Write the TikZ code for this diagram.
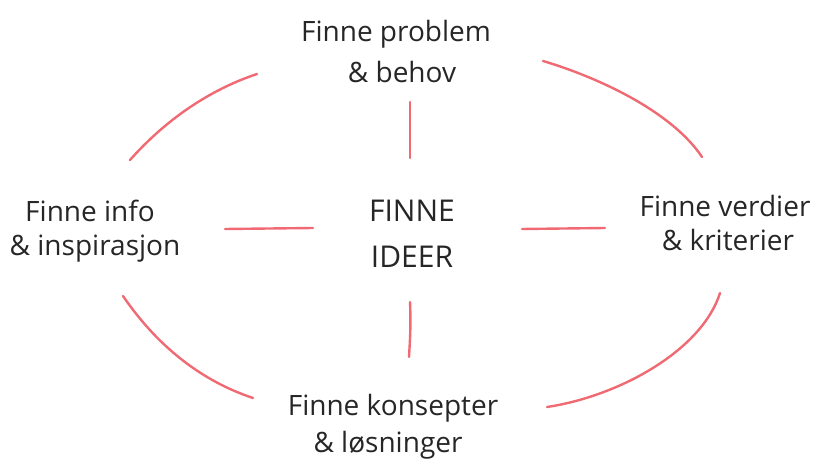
\documentclass[tikz,border=0pt]{standalone}
\usepackage{fontspec}
\setmainfont{Open Sans}
\begin{document}
\begin{tikzpicture}[x=1pt,y=-1pt,
  label/.style={font=\fontsize{28}{31}\selectfont, text=black!85, inner sep=0pt, anchor=base},
  core/.style={font=\fontsize{30}{33}\selectfont, text=black!85, inner sep=0pt, anchor=base},
  link/.style={draw=linkred, line width=2.4pt, line cap=round}]
\definecolor{linkred}{HTML}{F06A74}
\useasboundingbox (0,0) rectangle (826,470);

% texts
\node[label] (p1) at (396,42)  {Finne problem};
\node[label] (p2) at (402,83)  {\& behov};
\node[label] (i1) at (90,222)  {Finne info};
\node[label] (i2) at (95,255)  {\& inspirasjon};
\node[label] (v1) at (725,217) {Finne verdier};
\node[label] (v2) at (728,250) {\& kriterier};
\node[label] (k1) at (393,415) {Finne konsepter};
\node[label] (k2) at (388,452) {\& løsninger};
\node[core]  (c1) at (412,222) {FINNE};
\node[core]  (c2) at (412,267) {IDEER};

% end points of the strokes
\coordinate (tlA) at (130,160); \coordinate (tlB) at (257,74);
\coordinate (trA) at (543,61);  \coordinate (trB) at (702,157);
\coordinate (blA) at (123,296); \coordinate (blB) at (253,398);
\coordinate (brA) at (720,293); \coordinate (brB) at (547,407);
\coordinate (tvA) at (410,102); \coordinate (tvB) at (410,158);
\coordinate (bvA) at (410,302); \coordinate (bvB) at (409,357);
\coordinate (lhA) at (225,229); \coordinate (lhB) at (313,228);
\coordinate (rhA) at (522,229); \coordinate (rhB) at (605,228);

% outer ring
\draw[link] (tlA) .. controls (170,115) and (215,88) .. (tlB);
\draw[link] (trA) .. controls (600,78) and (672,112) .. (trB);
\draw[link] (blA) .. controls (160,350) and (205,382) .. (blB);
\draw[link] (brA) .. controls (702,350) and (620,396) .. (brB);

% spokes
\draw[link] (tvA) -- (tvB);
\draw[link] (bvA) .. controls (411,325) and (410,340) .. (bvB);
\draw[link] (lhA) -- (lhB);
\draw[link] (rhA) -- (rhB);
\end{tikzpicture}
\end{document}
